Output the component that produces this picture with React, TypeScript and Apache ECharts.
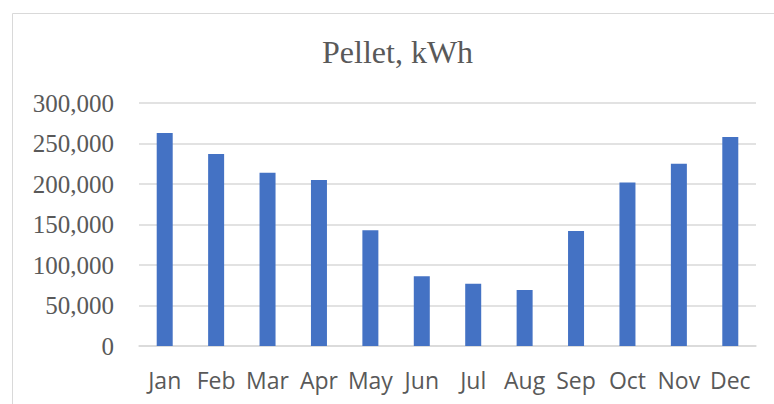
import React, { useEffect, useRef } from "react";
import * as echarts from "echarts";

const categories = ["Jan", "Feb", "Mar", "Apr", "May", "Jun", "Jul", "Aug", "Sep", "Oct", "Nov", "Dec"];
const pelletKWh = [263000, 237000, 214000, 205000, 143000, 86000, 77000, 69000, 142000, 202000, 225000, 258000];
const yTicks = { min: 0, max: 300000, interval: 50000 };
const titleText = "Pellet, kWh";

export default function App() {
  const ref = useRef<HTMLDivElement>(null);
  useEffect(() => {
    if (!ref.current) return;
    const chart = echarts.init(ref.current, null, { renderer: "svg" });
    chart.setOption({
      animation: false,
      backgroundColor: "#ffffff",
      title: {
        text: titleText,
        left: 322,
        top: 36,
        padding: 0,
        textStyle: {
          fontFamily: "Liberation Serif",
          fontSize: 32,
          fontWeight: "normal",
          color: "#595959",
        },
      },
      graphic: [
        {
          type: "rect",
          shape: { x: 12.5, y: 13.5, width: 900, height: 600 },
          style: { fill: "none", stroke: "#d9d9d9", lineWidth: 1 },
          silent: true,
        },
      ],
      grid: { left: 139, right: 18, top: 103, bottom: 58, containLabel: false },
      xAxis: {
        type: "category",
        data: categories,
        axisTick: { show: false },
        axisLine: { lineStyle: { color: "#d9d9d9", width: 1.5 } },
        axisLabel: {
          fontFamily: "Open Sans",
          fontSize: 23,
          color: "#595959",
          margin: 22,
          interval: 0,
        },
      },
      yAxis: {
        type: "value",
        min: yTicks.min,
        max: yTicks.max,
        interval: yTicks.interval,
        axisLine: { show: false },
        axisTick: { show: false },
        splitLine: { lineStyle: { color: "#d9d9d9", width: 1.5 } },
        axisLabel: {
          fontFamily: "Liberation Serif",
          fontSize: 25,
          color: "#595959",
          margin: 25,
          formatter: (v: number) => v.toLocaleString("en-US"),
        },
      },
      series: [
        {
          type: "bar",
          data: pelletKWh,
          barWidth: 16,
          itemStyle: { color: "#4472c4" },
        },
      ],
    });
    return () => chart.dispose();
  }, []);
  return (
    <div
      ref={ref}
      style={{ position: "fixed", left: 0, top: 0, width: 774, height: 404 }}
    />
  );
}
